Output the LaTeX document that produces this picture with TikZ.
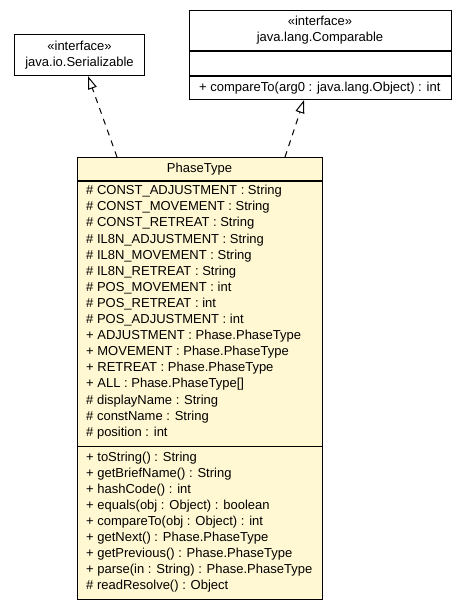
\documentclass[tikz,border=0pt]{standalone}
\usepackage{fontspec}
\setmainfont{Liberation Sans}
\usetikzlibrary{arrows.meta}
\definecolor{classfill}{RGB}{255,248,210}
\newcommand{\umlfont}{\fontsize{13}{16}\selectfont}
\newcommand{\stereotype}{«interface»}

\begin{document}
\begin{tikzpicture}[x=1pt, y=-1pt,
    classbox/.style={draw, line width=1.1pt, anchor=north west, inner sep=0pt},
    member/.style={anchor=base west, inner sep=0pt, font=\umlfont},
    classname/.style={align=center, inner sep=0pt, font=\umlfont},
    realizes/.style={draw, line width=1pt, dash pattern=on 6pt off 5.5pt, -{Triangle[open, fill=white, length=13pt, width=9pt]}}]

\useasboundingbox (0,0) rectangle (467,608);

% interfaces
\node[classbox, fill=white, minimum width=130pt, minimum height=41pt] (ser) at (14,34) {};
\node[classname] (sername) at (ser.center) {\stereotype\\java.io.Serializable};

\node[classbox, fill=white, minimum width=262pt, minimum height=89pt] (comp) at (189,10) {};
\node[classname] (compname) at (320,30.5) {\stereotype\\java.lang.Comparable};
\draw[line width=1.1pt] (comp.west |- 0,51) -- (comp.east |- 0,51);
\draw[line width=1.1pt] (comp.west |- 0,76) -- (comp.east |- 0,76);
\node[member] (compm1) at (199,91.7) {+ compareTo(arg0 : java.lang.Object) : int};

% the class
\node[classbox, fill=classfill, minimum width=245pt, minimum height=442pt] (phase) at (77,157) {};
\node[classname] (phasename) at (199.5,169) {PhaseType};
\draw[line width=1.1pt] (phase.west |- 0,181) -- (phase.east |- 0,181);
\draw[line width=1.1pt] (phase.west |- 0,446.5) -- (phase.east |- 0,446.5);

\node[member] (a1) at (86,194.7) {\# CONST\_ADJUSTMENT : String};
\node[member] (a2) at (86,210.8) {\# CONST\_MOVEMENT : String};
\node[member] (a3) at (86,226.9) {\# CONST\_RETREAT : String};
\node[member] (a4) at (86,243.0) {\# IL8N\_ADJUSTMENT : String};
\node[member] (a5) at (86,259.1) {\# IL8N\_MOVEMENT : String};
\node[member] (a6) at (86,275.2) {\# IL8N\_RETREAT : String};
\node[member] (a7) at (86,291.3) {\# POS\_MOVEMENT : int};
\node[member] (a8) at (86,307.4) {\# POS\_RETREAT : int};
\node[member] (a9) at (86,323.5) {\# POS\_ADJUSTMENT : int};
\node[member] (a10) at (86,339.6) {+ ADJUSTMENT : Phase.PhaseType};
\node[member] (a11) at (86,355.7) {+ MOVEMENT : Phase.PhaseType};
\node[member] (a12) at (86,371.8) {+ RETREAT : Phase.PhaseType};
\node[member] (a13) at (86,387.9) {+ ALL : Phase.PhaseType[]};
\node[member] (a14) at (86,404.0) {\# displayName : String};
\node[member] (a15) at (86,420.1) {\# constName : String};
\node[member] (a16) at (86,436.2) {\# position : int};

\node[member] (m1) at (86,461.7) {+ toString() : String};
\node[member] (m2) at (86,477.7) {+ getBriefName() : String};
\node[member] (m3) at (86,493.7) {+ hashCode() : int};
\node[member] (m4) at (86,509.7) {+ equals(obj : Object) : boolean};
\node[member] (m5) at (86,525.7) {+ compareTo(obj : Object) : int};
\node[member] (m6) at (86,541.7) {+ getNext() : Phase.PhaseType};
\node[member] (m7) at (86,557.7) {+ getPrevious() : Phase.PhaseType};
\node[member] (m8) at (86,573.7) {+ parse(in : String) : Phase.PhaseType};
\node[member] (m9) at (86,589.7) {\# readResolve() : Object};

% realizations
\draw[realizes] ([xshift=40pt]phase.north west) -- ([xshift=74pt]ser.south west);
\draw[realizes] ([xshift=208pt]phase.north west) -- ([xshift=115pt]comp.south west);
\end{tikzpicture}
\end{document}
